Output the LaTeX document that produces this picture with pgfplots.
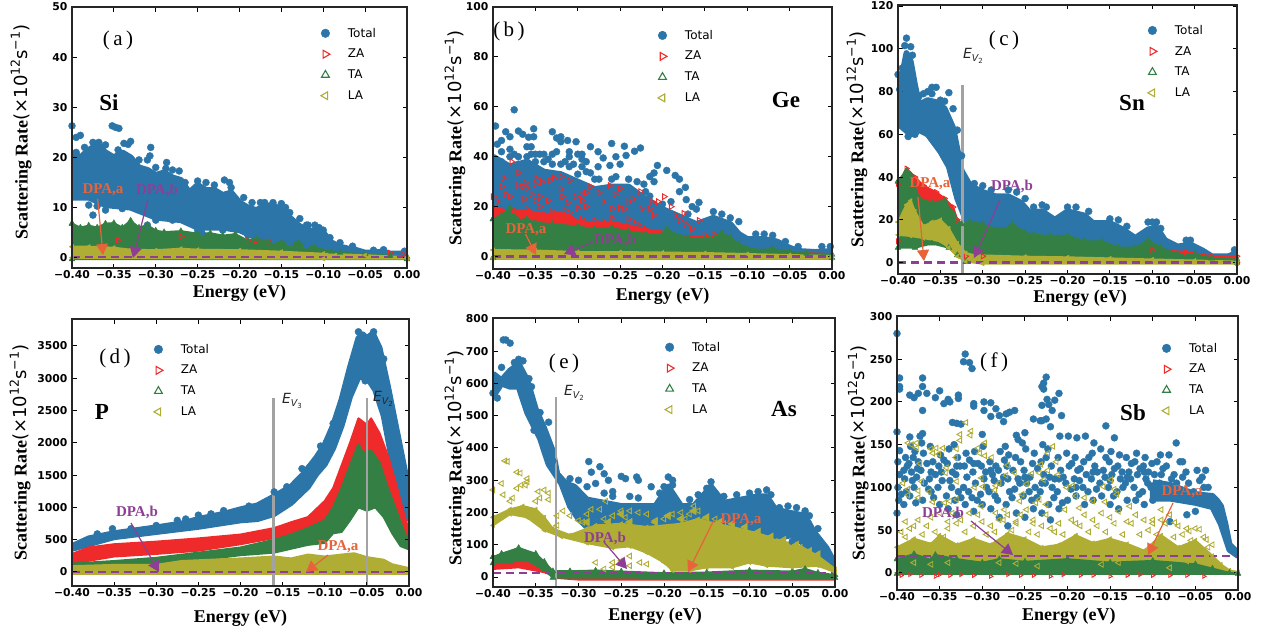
\documentclass[border=0pt]{standalone}
\usepackage{fontspec}
\setmainfont{Liberation Serif}
\newfontfamily\djv{DejaVu Sans}
\usepackage{pgfplots}
\pgfplotsset{compat=1.18}
\usetikzlibrary{arrows.meta}
\definecolor{cT}{HTML}{2C75A9}
\definecolor{cZ}{HTML}{EE2A2A}
\definecolor{cG}{HTML}{348044}
\definecolor{cL}{HTML}{B0AD35}
\definecolor{cA}{HTML}{E8633A}
\definecolor{cB}{HTML}{8E3F95}
\definecolor{cV}{HTML}{A2A2A2}
\newcommand\tickf{\djv\bfseries\fontsize{10.8pt}{12pt}\selectfont}
\newcommand\ylab{{\bfseries Scattering Rate}{\djv(×10\raisebox{0.42em}{\fontsize{12.5pt}{13pt}\selectfont 12}s\raisebox{0.42em}{\fontsize{12.5pt}{13pt}\selectfont −1})}}
\pgfplotsset{
  base/.style={scale only axis, anchor=south west, axis on top, xmin=-0.4, xmax=0,
    xtick={-0.4,-0.35,-0.3,-0.25,-0.2,-0.15,-0.1,-0.05,0},
    xticklabels={−0.40,−0.35,−0.30,−0.25,−0.20,−0.15,−0.10,−0.05,0.00},
    tick align=inside, major tick length=4.5pt, tick style={black, line width=1pt},
    after end axis/.code={\draw[black!85, line width=2.6pt] (rel axis cs:0,0) rectangle (rel axis cs:1,1);},
    ticklabel style={font=\tickf},
    x tick label style={yshift=1pt},
    y tick label style={xshift=-1pt},
    /pgf/number format/assume math mode=true, /pgf/number format/1000 sep={},
    scaled ticks=false,
    xlabel={Energy (eV)}, ylabel={\ylab},
    xlabel style={font=\bfseries\fontsize{18pt}{20pt}\selectfont, anchor=center},
    ylabel style={font=\fontsize{18pt}{20pt}\selectfont, anchor=center},
    legend style={draw=none, fill=none, anchor=north west, xshift=-4pt, yshift=-4pt,
      inner sep=0pt, outer sep=0pt, font=\djv\fontsize{12pt}{14pt}\selectfont,
      row sep=10.5pt, nodes={inner sep=0pt, outer sep=0pt}},
    legend cell align=left, legend columns=1},
  tot/.style={forget plot, only marks, mark=*, mark size=3.5pt, mark options={draw=cT, fill=cT, line width=.4pt}},
  polyT/.style={forget plot, draw=cT, line width=6pt, line join=round, fill=cT, mark=none},
  za/.style={forget plot, only marks, mark=triangle, mark size=3.2pt, mark options={draw=cZ, rotate=-90, line width=.9pt}},
  polyZ/.style={forget plot, draw=cZ, line width=2pt, line join=round, fill=cZ, mark=triangle, mark size=3pt, mark options={draw=cZ, rotate=-90, line width=.9pt}},
  polyG/.style={forget plot, draw=cG, line width=2pt, line join=round, fill=cG, mark=triangle*, mark size=3.5pt, mark options={draw=cG, fill=cG, line width=.4pt}},
  la/.style={forget plot, only marks, mark=triangle, mark size=3.2pt, mark options={draw=cL, rotate=90, line width=.9pt}},
  laf/.style={forget plot, only marks, mark=triangle*, mark size=4.5pt, mark options={draw=cL, fill=cL, rotate=90, line width=.4pt}},
  polyL/.style={forget plot, draw=cL, line width=2pt, line join=round, fill=cL, mark=triangle*, mark size=2.6pt, mark options={draw=cL, fill=cL, rotate=90, line width=.4pt}},
  dpa/.style={forget plot, draw=cB, line width=2.4pt, dash pattern=on 8pt off 5pt},
  vl/.style={forget plot, draw=cV, line width=2.6pt},
}
\newcommand\leg{%
  \addlegendimage{only marks, mark=*, mark size=4.3pt, mark options={draw=cT, fill=cT, line width=.4pt}}\addlegendentry{\hspace{18pt}Total}
  \addlegendimage{only marks, mark=triangle, mark size=4.5pt, mark options={draw=cZ, rotate=-90, line width=1.1pt}}\addlegendentry{\hspace{18pt}ZA}
  \addlegendimage{only marks, mark=triangle, mark size=4.5pt, mark options={draw=cG, line width=1.1pt}}\addlegendentry{\hspace{18pt}TA}
  \addlegendimage{only marks, mark=triangle, mark size=4.5pt, mark options={draw=cL, rotate=90, line width=1.1pt}}\addlegendentry{\hspace{18pt}LA}
}
\newcommand\pan[3]{\node[font=\fontsize{21pt}{23pt}\selectfont] at (#1pt,{633pt-#2pt}) {(\,#3\,)};}
\newcommand\elem[3]{\node[font=\bfseries\fontsize{23pt}{25pt}\selectfont] at (#1pt,{633pt-#2pt}) {#3};}
\newcommand\ev[3]{\node[font=\djv\fontsize{14pt}{16pt}\selectfont, text=black!85] at (#1pt,{633pt-#2pt}) {\itshape E\raisebox{-0.25em}{\fontsize{9.5pt}{10pt}\selectfont V\raisebox{-0.2em}{\upshape\fontsize{7pt}{8pt}\selectfont #3}}};}
\newcommand\dlab[4]{\node[font=\bfseries\fontsize{15pt}{16pt}\selectfont, text=#4] at (#1pt,{633pt-#2pt}) {#3};}
\newcommand\darr[5]{\draw[#5, line width=1.2pt, -{Triangle[length=11pt,width=12pt]}] (#1pt,{633pt-#2pt}) -- (#3pt,{633pt-#4pt});}
\begin{document}
\begin{tikzpicture}
\useasboundingbox (0,0) rectangle (1268pt,633pt);
% ---------- (a) Si
\begin{axis}[base, at={(72pt,365pt)}, width=335pt, height=261pt, ymin=-2.05, ymax=50,
  ytick={0,10,20,30,40,50},
  xlabel style={at={(axis description cs:0.5,-0.096)}},
  ylabel style={at={(axis description cs:-0.152,0.52)}},
  legend style={at={(axis description cs:0.755,0.935)}}]
\leg
\addplot[polyT] coordinates {(-0.4,21)(-0.39,20)(-0.38,21.5)(-0.37,22.5)(-0.36,21)(-0.35,20)(-0.34,21)(-0.33,20)(-0.32,18)(-0.31,17.5)(-0.3,16.5)(-0.29,17)(-0.28,16)(-0.27,15.5)(-0.26,13)(-0.25,14.5)(-0.24,13.5)(-0.23,13.5)(-0.22,12.5)(-0.21,13)(-0.2,11)(-0.19,10)(-0.18,9.5)(-0.17,10.3)(-0.16,10.5)(-0.15,9.5)(-0.14,8)(-0.13,6.5)(-0.12,5.5)(-0.11,5.3)(-0.1,5)(-0.09,3)(-0.08,2.2)(-0.07,1.8)(-0.06,1.5)(-0.05,1)(-0.04,1)(-0.03,1.2)(-0.02,0.8)(0,0.8)(0,0.3)(-0.05,0.5)(-0.09,1)(-0.11,2.5)(-0.13,3)(-0.15,3.5)(-0.18,4)(-0.2,5.5)(-0.22,6)(-0.25,6)(-0.27,7.5)(-0.3,8)(-0.33,10)(-0.36,10.5)(-0.38,12)(-0.4,12)(-0.4,21)};
\addplot[tot] coordinates {(-0.4,26.3)(-0.395,24)(-0.39,24.4)(-0.352,26.3)(-0.348,26)(-0.344,25.8)(-0.33,23.2)(-0.333,22.6)(-0.368,23)(-0.36,22.5)(-0.338,22.8)(-0.306,22)(-0.307,20.3)(-0.31,19.5)(-0.287,19)(-0.288,17.8)(-0.272,17.3)(-0.25,15.3)(-0.218,15.5)(-0.212,15)(-0.16,11)(-0.17,11)(-0.15,10.8)(-0.145,10)(-0.128,7.8)(-0.375,8.5)(-0.37,10.3)(-0.31,6.5)(-0.245,5)(-0.118,6.5)(-0.1,5.5)(-0.092,4)(-0.003,1.3)(-0.028,1.6)(-0.395,21)(-0.385,22)(-0.375,23)(-0.365,22)(-0.345,21.5)(-0.32,19.5)(-0.3,18)(-0.28,17.5)(-0.265,15)(-0.24,15)(-0.23,14.5)(-0.21,14)(-0.195,12)(-0.185,11)(-0.175,11)(-0.14,9)(-0.12,6.5)(-0.11,6.5)(-0.105,6)(-0.08,3)(-0.065,2.3)(-0.04,1.5)(-0.38,10.5)(-0.36,9.5)(-0.34,9.8)(-0.3,7.5)(-0.28,7.5)(-0.25,5.5)(-0.22,5.5)(-0.19,4.5)(-0.16,3.5)(-0.14,3)(-0.12,2.5)};
\addplot[za] coordinates {(-0.19,3.5)(-0.18,3.4)(-0.165,3.2)(-0.02,0.9)(-0.005,0.7)(-0.345,3.5)(-0.27,4.2)};
\addplot[polyG] coordinates {(-0.4,6.8)(-0.39,6)(-0.38,6.4)(-0.37,6)(-0.36,6.8)(-0.35,6.9)(-0.34,6)(-0.33,7.4)(-0.32,6)(-0.31,6.5)(-0.3,5.4)(-0.29,5.1)(-0.27,5.3)(-0.25,4.8)(-0.235,4.9)(-0.22,4.4)(-0.205,4.7)(-0.19,3.4)(-0.18,3.8)(-0.165,3.1)(-0.15,3)(-0.13,3)(-0.11,2)(-0.09,1.2)(-0.08,1)(-0.05,0.7)(-0.02,0.4)(0,0.2)(0,-0.3)(-0.4,-0.3)(-0.4,6.8)};
\addplot[polyL] coordinates {(-0.4,2.2)(-0.38,2.2)(-0.35,2)(-0.33,1.6)(-0.3,1.5)(-0.27,1.8)(-0.25,1.6)(-0.2,1.5)(-0.15,1.2)(-0.1,0.8)(-0.05,0.5)(0,0.1)(0,-0.2)(-0.1,-0.2)(-0.4,0)(-0.4,2.2)};
\addplot[dpa] coordinates {(-0.4,0.2)(0,0.2)};
\end{axis}
% ---------- (b) Ge
\begin{axis}[base, at={(493pt,364pt)}, width=339pt, height=262pt, ymin=-5, ymax=100,
  ytick={0,20,40,60,80,100},
  xlabel style={at={(axis description cs:0.5,-0.103)}},
  ylabel style={at={(axis description cs:-0.112,0.5)}},
  legend style={at={(axis description cs:0.4985,0.927)}}]
\leg
\addplot[polyT] coordinates {(-0.4,40)(-0.38,36)(-0.36,38)(-0.34,34)(-0.32,33)(-0.3,30)(-0.28,27)(-0.26,28)(-0.24,28)(-0.22,23)(-0.2,19)(-0.18,16)(-0.16,13)(-0.14,15.5)(-0.12,13)(-0.11,9)(-0.1,7)(-0.08,7)(-0.065,6)(-0.05,3.5)(-0.04,2.2)(-0.02,1.8)(0,2.2)(0,0)(-0.4,0)(-0.4,40)};
\addplot[tot] coordinates {(-0.375,58.8)(-0.397,52.3)(-0.385,50)(-0.37,50.3)(-0.365,49)(-0.352,51.2)(-0.352,48)(-0.358,47.8)(-0.38,48)(-0.39,46.5)(-0.33,50)(-0.32,46)(-0.312,46.5)(-0.302,46)(-0.32,48)(-0.325,47.5)(-0.26,45.3)(-0.245,44.2)(-0.226,43.5)(-0.285,44)(-0.276,42)(-0.27,39.5)(-0.25,37)(-0.262,36.5)(-0.255,40)(-0.243,40.5)(-0.233,42.2)(-0.276,36)(-0.285,33.5)(-0.206,36.5)(-0.195,34.5)(-0.185,32.5)(-0.18,31)(-0.21,33.5)(-0.21,30)(-0.215,32)(-0.173,27.7)(-0.18,26)(-0.172,22.8)(-0.157,21.7)(-0.215,24.2)(-0.165,20)(-0.16,19)(-0.325,42)(-0.3,41)(-0.295,41)(-0.31,42)(-0.33,41)(-0.345,41)(-0.35,41)(-0.36,44)(-0.355,44)(-0.38,43)(-0.37,40)(-0.34,38)(-0.31,40)(-0.29,38)(-0.295,36)(-0.26,31)(-0.24,31)(-0.23,30)(-0.255,32)(-0.222,29)(-0.31,36)(-0.32,37)(-0.3,33)(-0.28,31)(-0.395,45)(-0.39,42)(-0.38,40)(-0.36,40)(-0.002,4)(-0.012,4)(-0.14,18)(-0.35,38)(-0.33,37)(-0.315,38)(-0.305,37)(-0.295,39)(-0.29,34)(-0.275,31)(-0.39,38)(-0.37,37)(-0.355,41)(-0.335,39)(-0.34,41)(-0.375,41)(-0.13,17)(-0.12,15.5)(-0.11,14)(-0.09,9)(-0.08,9)(-0.07,8.5)(-0.055,6)(-0.04,4)(-0.17,17)(-0.2,21)(-0.19,22)(-0.22,26)};
\addplot[polyZ, mark=none] coordinates {(-0.4,20)(-0.38,18)(-0.36,18.5)(-0.34,17)(-0.32,17.5)(-0.31,16)(-0.3,14.5)(-0.28,13.5)(-0.26,14)(-0.24,12.5)(-0.22,11)(-0.2,10)(-0.18,8)(-0.16,8)(-0.14,8)(-0.13,5)(-0.1,2.5)(-0.05,1.5)(0,1)(0,0)(-0.4,0)(-0.4,20)};
\addplot[za] coordinates {(-0.378,38)(-0.388,31.5)(-0.37,33.5)(-0.37,28.5)(-0.365,28)(-0.362,29.5)(-0.36,27.5)(-0.355,25)(-0.35,31.5)(-0.35,29)(-0.345,24)(-0.342,30)(-0.333,30.5)(-0.328,31.5)(-0.32,32)(-0.31,30.3)(-0.32,27)(-0.335,22.3)(-0.318,24)(-0.312,21.5)(-0.303,24)(-0.296,25)(-0.29,25.5)(-0.295,22.5)(-0.285,28)(-0.275,25.5)(-0.27,22)(-0.262,28.5)(-0.256,25)(-0.25,27.2)(-0.24,22)(-0.235,23)(-0.226,26)(-0.245,19)(-0.26,19.3)(-0.25,19.5)(-0.225,19)(-0.205,22)(-0.212,22)(-0.198,24)(-0.19,20)(-0.215,19)(-0.21,16.5)(-0.185,16.5)(-0.175,17.3)(-0.18,14.5)(-0.173,13)(-0.157,14.5)(-0.165,11)(-0.14,9)(-0.15,8.5)(-0.235,14)(-0.23,13)(-0.225,12)(-0.39,28)(-0.385,25)(-0.395,22)(-0.38,24)(-0.363,23)(-0.35,22.5)(-0.345,20)(-0.33,18)(-0.3,19.5)(-0.29,20)(-0.28,14.5)(-0.26,15.5)(-0.27,14)(-0.24,15)(-0.4,24)(-0.396,18)(-0.375,18.5)(-0.36,19)(-0.34,17)(-0.32,17)(-0.315,16.5)(-0.31,16)(-0.31,17.5)(-0.295,15)(-0.315,18.5)(-0.318,15)};
\addplot[polyG] coordinates {(-0.4,15)(-0.39,16.5)(-0.38,19.5)(-0.37,14.5)(-0.36,15)(-0.35,13.5)(-0.33,13)(-0.3,12)(-0.28,11)(-0.26,11.5)(-0.24,10)(-0.22,9)(-0.2,8.5)(-0.195,11)(-0.18,8)(-0.17,7.5)(-0.15,7)(-0.13,9.5)(-0.12,7.5)(-0.11,5)(-0.09,2.5)(-0.07,3)(-0.05,2)(-0.03,1.2)(0,0.8)(0,-0.5)(-0.4,-0.5)(-0.4,15)};
\addplot[polyL] coordinates {(-0.4,2.6)(-0.35,2.4)(-0.3,1.8)(-0.25,1.8)(-0.2,1.6)(-0.15,1.4)(-0.1,1)(-0.05,0.6)(0,0.2)(0,-0.6)(-0.4,-0.6)(-0.4,2.6)};
\addplot[dpa] coordinates {(-0.4,0)(0,0)};
\end{axis}
% ---------- (c) Sn
\begin{axis}[base, at={(898pt,359pt)}, width=339pt, height=269pt, ymin=-5.3, ymax=120.5,
  ytick={0,20,40,60,80,100,120},
  xlabel style={at={(axis description cs:0.537,-0.09)}},
  ylabel style={at={(axis description cs:-0.121,0.5)}},
  legend style={at={(axis description cs:0.749,0.94)}}]
\leg
\addplot[polyT] coordinates {(-0.4,78)(-0.395,88)(-0.39,98)(-0.385,94)(-0.38,83)(-0.375,74)(-0.365,76)(-0.355,75)(-0.345,72)(-0.335,63)(-0.33,53)(-0.325,43)(-0.315,36)(-0.3,33)(-0.285,31)(-0.27,31)(-0.255,28)(-0.245,23.5)(-0.23,24)(-0.215,20)(-0.2,24)(-0.18,22)(-0.17,18.5)(-0.15,18.5)(-0.135,15.5)(-0.12,11.5)(-0.105,15.5)(-0.095,16.5)(-0.085,10.5)(-0.07,7.5)(-0.055,8.5)(-0.04,5.5)(-0.03,3)(-0.01,3)(0,4.5)(0,1)(-0.05,2)(-0.1,3)(-0.2,6)(-0.3,14)(-0.32,20)(-0.33,30)(-0.34,45)(-0.35,52)(-0.365,60)(-0.375,62)(-0.385,60)(-0.4,65)(-0.4,78)};
\addplot[tot] coordinates {(-0.39,105)(-0.392,101.5)(-0.385,101)(-0.395,91)(-0.383,97)(-0.385,90)(-0.4,88)(-0.398,81)(-0.36,82)(-0.355,82)(-0.34,79.5)(-0.345,75.5)(-0.335,72)(-0.36,79)(-0.365,80)(-0.388,59)(-0.38,60)(-0.31,37)(-0.3,36)(-0.29,34)(-0.27,34)(-0.26,33)(-0.25,30)(-0.24,26)(-0.23,27)(-0.225,26)(-0.2,26)(-0.19,26)(-0.175,24)(-0.15,20.5)(-0.14,20)(-0.13,17)(-0.105,19)(-0.1,19)(-0.095,19)(-0.09,16)(-0.06,10.5)(-0.055,10.5)(-0.003,6)(-0.375,78)(-0.37,79)(-0.35,76)(-0.33,62)(-0.325,50)};
\addplot[polyZ] coordinates {(-0.4,37)(-0.39,44)(-0.38,40)(-0.37,36)(-0.355,33)(-0.345,30)(-0.335,26)(-0.33,20)(-0.32,3)(-0.3,3)(-0.1,6)(-0.06,5)(-0.03,3)(0,3)(0,0)(-0.4,10)(-0.4,37)};
\addplot[polyG] coordinates {(-0.4,38)(-0.39,43)(-0.385,41)(-0.375,30)(-0.36,28)(-0.345,29)(-0.335,23)(-0.325,18)(-0.315,19)(-0.3,18)(-0.29,16)(-0.27,16)(-0.265,18)(-0.25,14)(-0.24,13)(-0.22,12.5)(-0.2,12.5)(-0.18,10)(-0.16,10)(-0.14,7)(-0.12,7)(-0.105,10.5)(-0.09,7)(-0.07,4)(-0.05,4)(-0.03,2)(0,1.5)(0,0)(-0.32,0.5)(-0.33,3.5)(-0.34,7)(-0.36,9)(-0.38,7)(-0.4,7)(-0.4,38)};
\addplot[polyL] coordinates {(-0.4,19)(-0.39,27)(-0.385,29)(-0.38,24)(-0.37,17)(-0.36,19)(-0.35,20)(-0.34,16)(-0.33,9)(-0.32,4.5)(-0.31,3.5)(-0.25,2.8)(-0.2,2.5)(-0.15,2)(-0.1,1.5)(-0.05,1)(0,0.5)(0,-0.5)(-0.3,-0.5)(-0.32,0.5)(-0.33,3)(-0.34,7)(-0.35,10)(-0.37,11.5)(-0.385,12.5)(-0.4,13)(-0.4,19)};
\addplot[vl] coordinates {(-0.324,-5.3)(-0.324,83)};
\addplot[dpa] coordinates {(-0.4,0)(0,0)};
\end{axis}
% ---------- (d) P
\begin{axis}[base, at={(72pt,47pt)}, width=337pt, height=267pt, ymin=-217, ymax=3918,
  ytick={0,500,1000,1500,2000,2500,3000,3500},
  xlabel style={at={(axis description cs:0.5,-0.12)}},
  ylabel style={at={(axis description cs:-0.154,0.5)}},
  legend style={at={(axis description cs:0.255,0.921)}}]
\leg
\addplot[polyT] coordinates {(-0.4,400)(-0.38,520)(-0.35,600)(-0.3,690)(-0.27,750)(-0.25,820)(-0.22,900)(-0.2,970)(-0.18,1030)(-0.16,1170)(-0.14,1320)(-0.125,1520)(-0.11,1770)(-0.1,1970)(-0.09,2270)(-0.08,2670)(-0.07,3170)(-0.06,3620)(-0.055,3680)(-0.05,3620)(-0.043,3690)(-0.035,3470)(-0.025,2870)(-0.015,2220)(-0.005,1570)(0,1120)(0,820)(-0.01,1170)(-0.02,1720)(-0.03,2420)(-0.04,2820)(-0.05,3020)(-0.06,3020)(-0.07,2720)(-0.08,2270)(-0.09,1920)(-0.1,1670)(-0.11,1520)(-0.12,1320)(-0.14,1070)(-0.16,900)(-0.18,820)(-0.2,800)(-0.25,700)(-0.3,620)(-0.35,540)(-0.4,360)(-0.4,400)};
\addplot[tot] coordinates {(-0.352,670)(-0.052,2960)(-0.127,1600)(-0.118,1620)(-0.105,1950)(-0.098,2000)(-0.16,1240)(-0.275,800)(-0.265,820)(-0.25,880)(-0.235,900)(-0.22,950)(-0.19,1020)(-0.175,1050)(-0.145,1320)(-0.37,590)(-0.33,670)(-0.3,720)(-0.042,3720)(-0.06,3720)(-0.09,2300)(-0.03,3300)};
\addplot[polyZ, mark=none] coordinates {(-0.4,280)(-0.38,380)(-0.35,430)(-0.3,470)(-0.25,520)(-0.2,580)(-0.16,680)(-0.14,770)(-0.12,850)(-0.1,1100)(-0.09,1300)(-0.08,1650)(-0.07,2000)(-0.06,2380)(-0.05,2280)(-0.045,2380)(-0.035,2150)(-0.025,1800)(-0.015,1350)(-0.005,850)(0,650)(0,500)(-0.02,800)(-0.03,1100)(-0.05,1500)(-0.08,1200)(-0.1,800)(-0.15,550)(-0.2,430)(-0.25,330)(-0.3,280)(-0.35,240)(-0.4,130)(-0.4,280)};
\addplot[polyG, mark=none] coordinates {(-0.4,130)(-0.35,170)(-0.3,220)(-0.25,300)(-0.2,380)(-0.16,500)(-0.14,580)(-0.12,680)(-0.1,800)(-0.09,1000)(-0.08,1300)(-0.07,1650)(-0.06,1980)(-0.055,1850)(-0.045,1880)(-0.035,1700)(-0.025,1300)(-0.015,950)(-0.005,600)(0,450)(0,350)(-0.01,400)(-0.02,600)(-0.03,850)(-0.04,1000)(-0.05,950)(-0.06,1000)(-0.07,800)(-0.08,620)(-0.09,600)(-0.1,450)(-0.12,420)(-0.16,300)(-0.2,260)(-0.3,100)(-0.4,80)(-0.4,130)};
\addplot[polyL, mark=none] coordinates {(-0.4,90)(-0.35,110)(-0.3,110)(-0.27,170)(-0.2,210)(-0.16,240)(-0.14,210)(-0.12,270)(-0.1,240)(-0.08,270)(-0.065,290)(-0.05,230)(-0.03,190)(-0.02,120)(-0.01,90)(0,60)(0,-30)(-0.4,-30)(-0.4,90)};
\addplot[vl] coordinates {(-0.161,-217)(-0.161,2700)};
\addplot[vl] coordinates {(-0.05,-217)(-0.05,2700)};
\addplot[dpa] coordinates {(-0.4,0)(0,0)};
\end{axis}
% ---------- (e) As
\begin{axis}[base, at={(493pt,46pt)}, width=342pt, height=269pt, ymin=-31, ymax=803,
  ytick={0,100,200,300,400,500,600,700,800},
  xlabel style={at={(axis description cs:0.474,-0.108)}},
  ylabel style={at={(axis description cs:-0.111,0.48)}},
  legend style={at={(axis description cs:0.515,0.926)}}]
\leg
\addplot[polyT] coordinates {(-0.4,630)(-0.39,610)(-0.38,640)(-0.37,660)(-0.36,610)(-0.35,520)(-0.34,460)(-0.33,390)(-0.325,320)(-0.315,290)(-0.305,280)(-0.29,240)(-0.27,230)(-0.25,220)(-0.23,220)(-0.21,220)(-0.195,280)(-0.18,220)(-0.165,220)(-0.145,280)(-0.13,230)(-0.11,240)(-0.09,250)(-0.08,250)(-0.07,210)(-0.055,200)(-0.035,190)(-0.025,140)(-0.01,90)(0,40)(0,30)(-0.01,50)(-0.03,90)(-0.05,130)(-0.07,120)(-0.09,150)(-0.12,150)(-0.15,160)(-0.2,150)(-0.25,120)(-0.28,130)(-0.3,180)(-0.31,220)(-0.32,290)(-0.335,350)(-0.345,430)(-0.36,510)(-0.37,590)(-0.38,590)(-0.39,600)(-0.4,560)(-0.4,630)};
\addplot[tot] coordinates {(-0.388,735)(-0.385,735)(-0.38,725)(-0.288,358)(-0.275,342)(-0.285,325)(-0.27,320)(-0.265,300)(-0.25,312)(-0.245,305)(-0.23,300)(-0.232,310)(-0.29,280)(-0.28,290)(-0.3,300)(-0.27,260)(-0.26,250)(-0.26,265)(-0.195,310)(-0.19,300)(-0.2,280)(-0.145,295)(-0.215,280)(-0.285,225)(-0.3,255)(-0.31,305)(-0.24,250)(-0.23,245)(-0.205,260)(-0.19,285)(-0.17,240)(-0.16,255)(-0.15,275)(-0.14,260)(-0.13,250)(-0.115,255)(-0.1,260)(-0.09,265)(-0.08,270)(-0.075,255)(-0.065,215)(-0.055,220)(-0.045,215)(-0.035,205)(-0.03,190)(-0.02,150)(-0.05,110)(-0.06,130)(-0.07,130)(-0.39,650)(-0.375,665)(-0.37,675)(-0.365,670)(-0.358,615)(-0.355,590)(-0.345,510)(-0.335,480)(-0.4,570)(-0.395,555)(-0.34,435)(-0.33,360)(-0.352,455)};
\addplot[polyZ, mark=none] coordinates {(-0.4,42)(-0.37,52)(-0.35,42)(-0.34,25)(-0.33,6)(-0.32,-2)(-0.3,-5)(0,-6)(0,-8)(-0.3,-8)(-0.325,-3)(-0.33,5)(-0.34,15)(-0.37,30)(-0.4,25)(-0.4,42)};
\addplot[polyG] coordinates {(-0.4,62)(-0.39,72)(-0.37,90)(-0.35,72)(-0.34,47)(-0.33,18)(-0.31,18)(-0.28,20)(-0.25,17)(-0.2,12)(-0.15,14)(-0.1,20)(-0.05,17)(-0.035,25)(-0.02,13)(0,6)(0,-3)(-0.33,-2)(-0.34,22)(-0.36,52)(-0.38,48)(-0.4,43)(-0.4,62)};
\addplot[polyL] coordinates {(-0.4,185)(-0.38,210)(-0.365,220)(-0.35,210)(-0.34,185)(-0.33,150)(-0.31,130)(-0.29,150)(-0.28,160)(-0.25,165)(-0.22,155)(-0.18,165)(-0.16,180)(-0.14,165)(-0.12,155)(-0.09,135)(-0.06,110)(-0.04,95)(-0.02,65)(0,25)(0,15)(-0.02,35)(-0.05,30)(-0.08,35)(-0.1,45)(-0.12,30)(-0.15,30)(-0.17,20)(-0.19,20)(-0.2,45)(-0.22,75)(-0.24,95)(-0.26,90)(-0.29,105)(-0.32,125)(-0.34,145)(-0.36,185)(-0.38,195)(-0.4,160)(-0.4,185)};
\addplot[laf] coordinates {(-0.29,170)(-0.265,170)(-0.25,195)(-0.24,170)(-0.21,170)(-0.195,190)(-0.18,180)(-0.165,205)(-0.15,185)(-0.135,170)(-0.12,165)(-0.105,155)(-0.09,140)(-0.075,125)(-0.06,115)(-0.045,100)(-0.03,80)(-0.02,70)};
\addplot[la] coordinates {(-0.386,360)(-0.383,358)(-0.4,270)(-0.39,290)(-0.388,255)(-0.372,325)(-0.368,322)(-0.36,305)(-0.36,295)(-0.372,275)(-0.367,285)(-0.362,285)(-0.38,235)(-0.377,245)(-0.347,265)(-0.34,270)(-0.335,260)(-0.345,245)(-0.335,240)(-0.318,205)(-0.325,190)(-0.31,190)(-0.3,175)(-0.29,195)(-0.285,210)(-0.275,210)(-0.268,235)(-0.26,190)(-0.25,205)(-0.24,205)(-0.23,200)(-0.22,195)(-0.2,180)(-0.19,195)(-0.18,200)(-0.17,195)(-0.165,220)(-0.16,205)(-0.28,45)(-0.26,45)(-0.25,50)(-0.24,65)(-0.228,45)(-0.27,25)(-0.24,35)(-0.26,30)(-0.22,40)(-0.155,175)(-0.14,180)(-0.13,165)(-0.295,170)(-0.27,180)(-0.245,185)(-0.21,175)(-0.175,180)(-0.35,235)(-0.325,160)};
\addplot[vl] coordinates {(-0.3264,-31)(-0.3264,557)};
\addplot[dpa] coordinates {(-0.4,13)(0,13)};
\end{axis}
% ---------- (f) Sb
\begin{axis}[base, at={(897pt,43pt)}, width=341pt, height=274pt, ymin=-20, ymax=300.5,
  ytick={0,50,100,150,200,250,300},
  xlabel style={at={(axis description cs:0.504,-0.095)}},
  ylabel style={at={(axis description cs:-0.114,0.5)}},
  legend style={at={(axis description cs:0.789,0.916)}}]
\leg
\addplot[tot] coordinates {(-0.4,280)(-0.397,228)(-0.397,218)(-0.397,215)(-0.4,165)(-0.397,143)(-0.37,228)(-0.37,218)(-0.365,210)(-0.37,190)(-0.385,208)(-0.38,205)(-0.375,210)(-0.35,213)(-0.355,205)(-0.345,198)(-0.34,203)(-0.338,200)(-0.32,256)(-0.322,247)(-0.315,246)(-0.312,239)(-0.33,175)(-0.335,176)(-0.328,208)(-0.328,204)(-0.31,198)(-0.31,195)(-0.298,200)(-0.29,199)(-0.298,190)(-0.284,192)(-0.29,183)(-0.275,177)(-0.272,186)(-0.268,188)(-0.262,190)(-0.28,184)(-0.225,229)(-0.228,222)(-0.23,218)(-0.228,215)(-0.224,203)(-0.222,197)(-0.218,190)(-0.21,210)(-0.215,202)(-0.23,196)(-0.207,184)(-0.24,180)(-0.232,178)(-0.23,178)(-0.22,171)(-0.155,172)(-0.145,158)(-0.225,180)(-0.25,164)(-0.26,161)(-0.258,156)(-0.3,162)(-0.37,163)(-0.373,160)(-0.385,159)(-0.325,174)
(-0.4,70)(-0.398,85)(-0.399,100)(-0.397,115)(-0.399,130)
(-0.392,80)(-0.389,95)(-0.391,110)(-0.388,125)
(-0.385,90)(-0.383,118)(-0.386,128)(-0.384,148)
(-0.378,82)(-0.38,100)(-0.377,112)(-0.381,135)(-0.379,142)
(-0.37,85)(-0.368,105)(-0.372,120)(-0.369,140)(-0.371,152)
(-0.36,95)(-0.362,110)(-0.358,130)(-0.361,148)
(-0.35,80)(-0.352,100)(-0.348,118)(-0.351,125)(-0.349,138)
(-0.34,75)(-0.342,90)(-0.338,108)(-0.341,128)(-0.339,145)
(-0.33,68)(-0.332,85)(-0.328,95)(-0.331,115)(-0.329,135)(-0.333,150)
(-0.32,80)(-0.322,100)(-0.318,112)(-0.321,125)(-0.319,140)
(-0.31,72)(-0.312,88)(-0.308,105)(-0.311,118)(-0.309,142)
(-0.3,80)(-0.302,92)(-0.298,110)(-0.301,125)(-0.299,148)
(-0.29,75)(-0.292,95)(-0.288,115)(-0.291,130)
(-0.28,65)(-0.282,85)(-0.278,105)(-0.281,120)(-0.279,142)
(-0.27,55)(-0.272,80)(-0.268,95)(-0.271,125)(-0.269,138)(-0.273,148)
(-0.26,70)(-0.262,98)(-0.258,110)(-0.261,135)
(-0.25,65)(-0.252,90)(-0.248,105)(-0.251,120)(-0.249,145)(-0.253,152)
(-0.24,75)(-0.242,85)(-0.238,100)(-0.241,128)(-0.239,140)
(-0.23,70)(-0.232,95)(-0.228,115)(-0.231,130)(-0.229,150)
(-0.22,62)(-0.222,80)(-0.218,100)(-0.221,112)(-0.219,125)(-0.223,145)
(-0.21,75)(-0.212,95)(-0.208,120)(-0.211,135)(-0.209,160)
(-0.2,85)(-0.202,105)(-0.198,125)(-0.201,140)(-0.199,160)
(-0.19,90)(-0.192,110)(-0.188,120)(-0.191,135)(-0.189,158)
(-0.18,80)(-0.182,100)(-0.178,115)(-0.181,130)(-0.179,160)
(-0.17,85)(-0.172,110)(-0.168,125)(-0.171,140)(-0.169,152)
(-0.16,90)(-0.162,105)(-0.158,120)(-0.161,145)
(-0.15,80)(-0.152,100)(-0.148,115)(-0.151,130)(-0.149,142)
(-0.14,75)(-0.142,95)(-0.138,110)(-0.141,125)(-0.139,138)
(-0.13,85)(-0.132,105)(-0.128,118)(-0.131,135)
(-0.12,85)(-0.122,100)(-0.118,115)(-0.121,130)(-0.119,140)
(-0.11,80)(-0.112,95)(-0.108,110)(-0.111,125)(-0.109,135)
(-0.1,85)(-0.102,100)(-0.098,115)(-0.101,128)
(-0.09,90)(-0.092,105)(-0.088,122)(-0.091,138)
(-0.08,60)(-0.082,100)(-0.078,110)(-0.081,138)
(-0.07,95)(-0.072,105)(-0.068,130)(-0.0725,152)
(-0.06,68)(-0.062,95)(-0.058,105)(-0.061,118)(-0.065,130)
(-0.05,72)(-0.052,95)(-0.048,120)
(-0.04,100)(-0.042,112)(-0.038,120)
(-0.395,92)(-0.392,120)(-0.382,108)(-0.376,122)(-0.365,128)(-0.363,98)(-0.357,88)(-0.355,115)(-0.347,108)(-0.345,132)(-0.336,100)(-0.335,118)(-0.326,125)(-0.325,88)(-0.316,95)(-0.315,132)(-0.306,85)(-0.305,128)(-0.296,118)(-0.295,100)(-0.286,108)(-0.285,90)(-0.284,125)(-0.275,112)(-0.274,132)(-0.265,88)(-0.264,120)(-0.256,105)(-0.255,130)(-0.245,95)(-0.244,112)(-0.236,88)(-0.235,122)(-0.226,105)(-0.225,135)(-0.216,88)(-0.215,110)(-0.206,82)(-0.205,112)(-0.196,98)(-0.195,128)(-0.186,108)(-0.185,122)(-0.176,95)(-0.175,135)(-0.166,98)(-0.165,118)(-0.156,112)(-0.155,135)(-0.146,90)(-0.145,122)(-0.136,118)(-0.135,100)(-0.126,110)(-0.125,128)(-0.116,92)(-0.115,122)(-0.106,105)(-0.105,118)(-0.096,95)(-0.095,130)(-0.085,92)(-0.084,125)(-0.075,115)(-0.074,90)(-0.065,112)(-0.055,90)(-0.045,108)(-0.035,100)(-0.39,135)(-0.375,130)(-0.36,118)(-0.33,125)(-0.31,128)(-0.29,120)(-0.27,110)(-0.25,112)(-0.23,105)(-0.21,110)(-0.19,100)(-0.17,118)(-0.15,108)(-0.13,112)(-0.11,118)(-0.09,115)};
\addplot[polyT] coordinates {(-0.1,106)(-0.08,103)(-0.05,92)(-0.03,90)(-0.025,85)(-0.02,78)(-0.015,58)(-0.01,33)(-0.005,28)(0,23)(0,20)(-0.01,27)(-0.02,57)(-0.03,77)(-0.05,82)(-0.08,87)(-0.1,87)(-0.1,106)};
\addplot[polyL] coordinates {(-0.4,30)(-0.38,40)(-0.36,34)(-0.35,44)(-0.33,33)(-0.31,40)(-0.29,33)(-0.27,46)(-0.25,40)(-0.23,30)(-0.21,33)(-0.19,44)(-0.17,35)(-0.15,40)(-0.13,34)(-0.11,26)(-0.09,44)(-0.07,30)(-0.05,38)(-0.03,20)(-0.02,10)(-0.01,3)(0,1)(0,-1)(-0.4,0)(-0.4,30)};
\addplot[polyG] coordinates {(-0.4,16)(-0.38,22)(-0.36,15)(-0.355,21)(-0.33,16)(-0.3,12)(-0.28,16)(-0.25,13)(-0.2,16)(-0.15,12)(-0.1,14)(-0.05,10)(-0.03,5)(-0.01,0)(0,-1)(-0.4,-1)(-0.4,16)};
\addplot[za, mark size=2.2pt] coordinates {(-0.395,-3)(-0.385,-2)(-0.372,-3)(-0.355,-4)(-0.35,-2)(-0.338,-3)(-0.325,-2)(-0.31,-3)(-0.29,-4)(-0.27,-2)(-0.255,-3)(-0.24,-3)(-0.22,-4)(-0.205,-2)(-0.185,-3)(-0.17,-3)(-0.15,-4)(-0.13,-3)(-0.115,-2)(-0.1,-3)(-0.08,-3)(-0.06,-3)(-0.04,-4)};
\addplot[la] coordinates {(-0.319,176)(-0.313,166)(-0.314,161)(-0.326,162)(-0.326,155)(-0.387,152)(-0.383,150)(-0.377,152)(-0.377,146)(-0.36,145)(-0.354,146)(-0.346,146)(-0.358,140)(-0.351,139)(-0.297,152)(-0.305,146)(-0.303,140)(-0.297,137)(-0.289,135)(-0.217,148)(-0.223,140)(-0.33,145)(-0.331,135)(-0.373,128)(-0.342,123)(-0.343,117)(-0.27,126)(-0.262,117)(-0.272,114)(-0.213,130)(-0.231,127)(-0.223,120)(-0.233,117)(-0.242,116)(-0.211,115)(-0.228,109)(-0.393,105)(-0.387,98)(-0.387,91)(-0.375,96)(-0.371,107)(-0.362,95)(-0.375,88)(-0.33,107)(-0.301,111)(-0.299,101)(-0.309,100)(-0.28,105)(-0.284,102)(-0.285,97)(-0.248,104)(-0.253,92)(-0.256,84)(-0.233,86)(-0.225,80)(-0.237,82)(-0.201,100)(-0.194,102)(-0.19,90)(-0.18,88)(-0.17,84)(-0.156,83)(-0.158,101)(-0.149,109)(-0.145,98)(-0.142,92)(-0.33,86)(-0.338,84)(-0.358,83)(-0.344,82)(-0.301,78)(-0.315,70)(-0.274,74)(-0.284,70)(-0.248,74)(-0.203,74)(-0.186,76)(-0.127,78)(-0.09,74)(-0.074,59)(-0.057,49)(-0.045,51)(-0.037,39)(-0.39,60)(-0.38,55)(-0.36,65)(-0.34,60)(-0.33,58)(-0.3,60)(-0.28,62)(-0.26,60)(-0.24,58)(-0.22,52)(-0.19,58)(-0.17,62)(-0.15,65)(-0.13,60)(-0.11,62)(-0.1,58)(-0.09,62)(-0.07,55)(-0.05,52)(-0.38,12)(-0.36,10)(-0.34,12)(-0.28,12)(-0.26,11)(-0.235,8)(-0.16,10)(-0.14,12)(-0.08,6)(-0.06,14)
(-0.395,48)(-0.39,42)(-0.385,52)(-0.375,62)(-0.37,45)(-0.365,55)(-0.355,48)(-0.35,70)(-0.345,42)(-0.34,52)(-0.335,70)(-0.325,62)(-0.32,48)(-0.31,55)(-0.305,68)(-0.295,45)(-0.29,55)(-0.285,48)(-0.275,62)(-0.27,68)(-0.265,50)(-0.26,58)(-0.255,68)(-0.245,48)(-0.24,62)(-0.235,45)(-0.23,55)(-0.225,68)(-0.215,48)(-0.21,58)(-0.205,45)(-0.195,62)(-0.185,55)(-0.18,68)(-0.175,48)(-0.165,55)(-0.16,70)(-0.155,48)(-0.145,58)(-0.14,72)(-0.135,45)(-0.125,58)(-0.12,68)(-0.115,45)(-0.105,50)(-0.1,62)(-0.095,45)(-0.085,58)(-0.08,68)(-0.075,42)(-0.065,45)(-0.06,52)(-0.055,38)(-0.04,42)(-0.035,30)(-0.03,33)};
\addplot[dpa] coordinates {(-0.4,20)(0,20)};
\end{axis}
% ---------- annotations
\pan{118}{40}{a}\elem{109}{103}{Si}
\dlab{103}{190}{DPA,a}{cA}\darr{97.7}{199}{103}{255}{cA}
\dlab{157}{190}{DPA,b}{cB}\darr{148}{199}{133}{258}{cB}
\pan{509}{31}{b}\elem{786}{100}{Ge}
\dlab{526}{230}{DPA,a}{cA}\darr{525.5}{234}{536}{255}{cA}
\dlab{615}{240}{DPA,b}{cB}\darr{593}{242}{564}{254}{cB}
\pan{1004}{40}{c}\elem{1132}{103}{Sn}\ev{973}{56}{2}
\dlab{930}{184}{DPA,a}{cA}\darr{918}{197}{924}{261}{cA}
\dlab{1012}{186}{DPA,b}{cB}\darr{1000}{200}{974}{258}{cB}
\pan{115}{358}{d}\elem{102}{412}{P}\ev{292}{401}{3}\ev{383}{399}{2}
\dlab{137}{512}{DPA,b}{cB}\darr{131}{523}{159}{572}{cB}
\dlab{338}{547}{DPA,a}{cA}\darr{328}{555}{306}{572}{cA}
\pan{564}{363}{e}\elem{784}{409}{As}\ev{574}{393}{2}
\dlab{605}{538}{DPA,b}{cB}\darr{604}{542}{627}{569}{cB}
\dlab{741}{520}{DPA,a}{cA}\darr{714}{520}{688}{572}{cA}
\pan{994}{362}{f}\elem{1133}{413}{Sb}
\dlab{943}{513}{DPA,b}{cB}\darr{971}{521}{1013}{555}{cB}
\dlab{1182}{492}{DPA,a}{cA}\darr{1173}{503}{1148}{555}{cA}
\end{tikzpicture}
\end{document}
